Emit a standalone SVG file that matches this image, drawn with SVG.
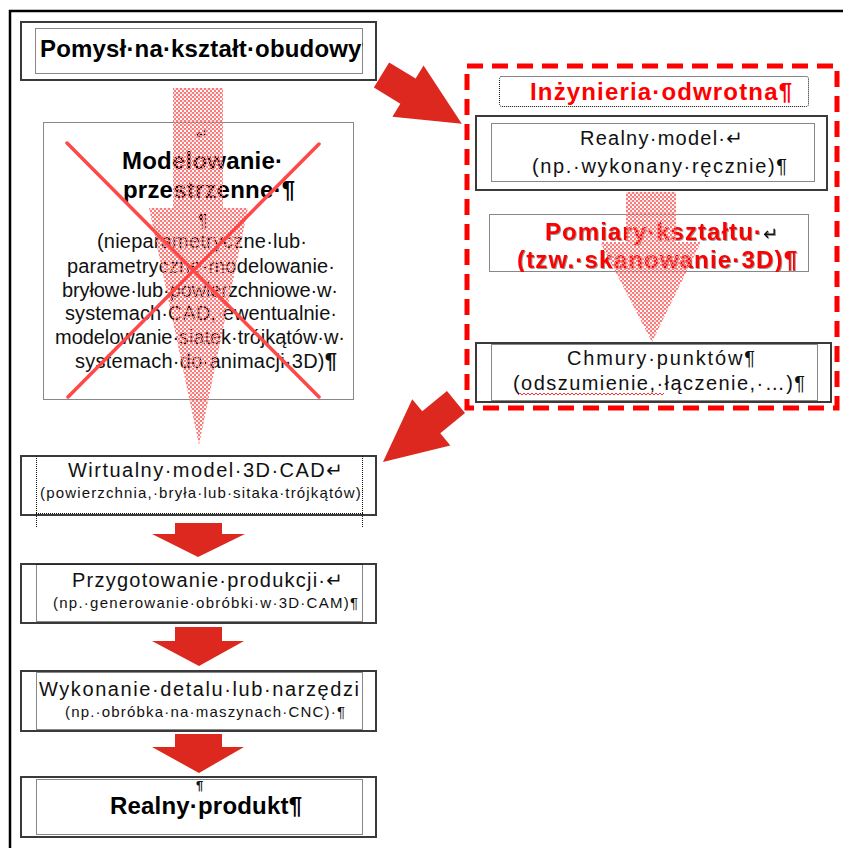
<svg xmlns="http://www.w3.org/2000/svg" width="843" height="848" viewBox="0 0 843 848">
<defs>
<style>
text{font-family:"Liberation Sans",Arial,"DejaVu Sans",sans-serif;}
.b{font-weight:bold;font-size:24px;}
.n{font-size:20px;fill:#111;}
.s{font-size:15px;fill:#111;}
.red{fill:#ff0000;}
.solid{fill:#fff;stroke:#3a3a3a;stroke-width:2;}
.dot{fill:none;stroke:#111;stroke-width:1;stroke-dasharray:1 1;}
.hatch{fill:url(#hp);}
.blk{fill:#dc281e;}
</style>
<pattern id="hp" width="4" height="4" patternUnits="userSpaceOnUse">
<rect x="0" y="0" width="2" height="2" fill="#fb7a7a"/>
<rect x="2" y="2" width="2" height="2" fill="#fb7a7a"/>
<rect x="2" y="0" width="2" height="2" fill="#fb7a7a" fill-opacity="0.25"/>
</pattern>
<clipPath id="c1"><rect x="35" y="20" width="328" height="60"/></clipPath>
<clipPath id="c2"><rect x="36" y="456" width="327" height="60"/></clipPath>
<clipPath id="c3"><rect x="480" y="205" width="340" height="67"/></clipPath>
<clipPath id="c4"><rect x="36" y="779" width="327" height="57"/></clipPath>
</defs>
<rect width="843" height="848" fill="#fff"/>
<g id="frame" fill="none" stroke="#000" stroke-width="2.5">
<path d="M10,848 V11 H843"/>
</g>

<g id="pomysl">
<rect class="solid" x="21" y="22" width="355" height="58"/>
<rect class="dot" x="35.5" y="28.5" width="327" height="45"/>
<text class="b" x="40" y="57" textLength="335" lengthAdjust="spacing" clip-path="url(#c1)">Pomysł·na·kształt·obudowy¶</text>
</g>

<g id="modelowanie">
<rect class="dot" x="43.5" y="122.5" width="310" height="277"/>
<text x="196" y="139" font-size="14" fill="#111">↵</text>
<text class="b" x="122" y="169" textLength="161" lengthAdjust="spacing">Modelowanie·</text>
<text class="b" x="123" y="198" textLength="172" lengthAdjust="spacing">przestrzenne·¶</text>
<text x="198" y="227" font-size="18" fill="#111">¶</text>
<text class="n" x="97" y="248" textLength="210" lengthAdjust="spacing">(nieparametryczne·lub·</text>
<text class="n" x="67" y="273" textLength="268" lengthAdjust="spacing">parametryczne·modelowanie·</text>
<text class="n" x="62" y="297" textLength="276" lengthAdjust="spacing">bryłowe·lub·powierzchniowe·w·</text>
<text class="n" x="65" y="320" textLength="272" lengthAdjust="spacing">systemach·CAD,·ewentualnie·</text>
<text class="n" x="55" y="344" textLength="290" lengthAdjust="spacing">modelowanie·siatek·trójkątów·w·</text>
<text class="n" x="75" y="368" textLength="262" lengthAdjust="spacing">systemach·do·animacji·3D)<tspan font-weight="bold" font-size="22">¶</tspan></text>
</g>

<g id="inzynieria">
<rect x="467" y="66" width="370" height="342" fill="none" stroke="#ff0000" stroke-width="5" stroke-dasharray="16 9"/>
<rect class="dot" x="499.5" y="76.5" width="309" height="30" rx="2"/>
<text class="b red" x="530" y="100" textLength="262" lengthAdjust="spacing">Inżynieria·odwrotna¶</text>
</g>

<g id="realny-model">
<rect class="solid" x="476" y="116" width="351" height="74"/>
<rect class="dot" x="491.5" y="123.5" width="323" height="58"/>
<text class="n" x="580" y="145" textLength="163" lengthAdjust="spacing">Realny·model·↵</text>
<text class="n" x="532" y="173" textLength="255" lengthAdjust="spacing">(np.·wykonany·ręcznie)¶</text>
</g>

<g id="pomiary">
<rect class="dot" x="489.5" y="214.5" width="319" height="57"/>
<g clip-path="url(#c3)">
<text class="b" x="545" y="240" textLength="233" lengthAdjust="spacing" style="filter:drop-shadow(1px 1px 0 #999)"><tspan fill="#ff0000">Pomiary·kształtu·</tspan><tspan fill="#111" font-weight="normal" font-size="18">↵</tspan></text>
<text class="b red" x="517" y="268" textLength="280" lengthAdjust="spacing" style="filter:drop-shadow(1px 1px 0 #999)">(tzw.·skanowanie·3D)¶</text>
</g>
</g>

<g id="chmury">
<rect class="solid" x="476" y="343" width="355" height="59"/>
<rect class="dot" x="491.5" y="344.5" width="326" height="56"/>
<text class="n" x="567" y="365" textLength="188" lengthAdjust="spacing">Chmury·punktów¶</text>
<text class="n" x="513" y="390" textLength="292" lengthAdjust="spacing">(odszumienie,·łączenie,·…)¶</text>
<path d="M518,395 l2,-2 l2,2 l2,-2 l2,2 l2,-2 l2,2 l2,-2 l2,2 l2,-2 l2,2 l2,-2 l2,2 l2,-2 l2,2 l2,-2 l2,2 l2,-2 l2,2 l2,-2 l2,2 l2,-2 l2,2 l2,-2 l2,2 l2,-2 l2,2 l2,-2 l2,2 l2,-2 l2,2 l2,-2 l2,2 l2,-2 l2,2 l2,-2 l2,2 l2,-2 l2,2 l2,-2 l2,2 l2,-2 l2,2 l2,-2 l2,2 l2,-2 l2,2 l2,-2 l2,2 l2,-2 l2,2 l2,-2 l2,2 l2,-2 l2,2 l2,-2 l2,2 l2,-2 l2,2 l2,-2 l2,2 l2,-2 l2,2 l2,-2 l2,2 l2,-2 l2,2 l2,-2 l2,2 l2,-2 l2,2 l2,-2 l2,2 l2,-2" fill="none" stroke="#ff3030" stroke-width="1"/>
</g>

<g id="wirtualny">
<rect class="solid" x="21" y="456" width="355" height="59"/>
<path class="dot" d="M36.5,456 V528 M362.5,456 V528 M36,513.5 H363"/>
<text class="n" x="68" y="477" textLength="275" lengthAdjust="spacing">Wirtualny·model·3D·CAD↵</text>
<text class="s" x="40" y="498" textLength="330" lengthAdjust="spacing" clip-path="url(#c2)">(powierzchnia,·bryła·lub·sitaka·trójkątów)¶</text>
</g>

<g id="przygotowanie">
<rect class="solid" x="21" y="564" width="355" height="59"/>
<rect class="dot" x="36.5" y="564.5" width="326" height="57"/>
<text class="n" x="72" y="587" textLength="271" lengthAdjust="spacing">Przygotowanie·produkcji·↵</text>
<text class="s" x="53" y="608" textLength="305" lengthAdjust="spacing">(np.·generowanie·obróbki·w·3D·CAM)¶</text>
</g>

<g id="wykonanie">
<rect class="solid" x="21" y="671" width="355" height="60"/>
<rect class="dot" x="36.5" y="672.5" width="326" height="57"/>
<text class="n" x="39" y="696" textLength="320" lengthAdjust="spacing">Wykonanie·detalu·lub·narzędzi</text>
<text class="s" x="65" y="717" textLength="280" lengthAdjust="spacing">(np.·obróbka·na·maszynach·CNC)·¶</text>
</g>

<g id="realny-produkt">
<rect class="solid" x="21" y="777" width="355" height="60"/>
<rect class="dot" x="36.5" y="779.5" width="326" height="55"/>
<text x="196" y="790" font-size="13" font-weight="bold" fill="#111" clip-path="url(#c4)">¶</text>
<text class="b" x="110" y="814" textLength="192" lengthAdjust="spacing">Realny·produkt¶</text>
</g>

<g id="connectors">
<polygon class="hatch" points="173,88 223,88 223,208 248,208 199,445 149,208 173,208"/>
<polygon class="hatch" points="626,192 676,192 676,242 701,242 652,342 600,242 626,242"/>
<g stroke="#ff4848" stroke-width="3.5" stroke-linecap="round">
<line x1="67" y1="143" x2="319" y2="397"/>
<line x1="319" y1="144" x2="68" y2="397"/>
</g>
<polygon class="blk" transform="translate(381.5,75) rotate(31.3)" points="0,-14.7 31,-14.7 31,-30 94,0 31,30 31,14.7 0,14.7"/>
<polygon class="blk" transform="translate(456,402) rotate(140.6)" points="0,-14.2 32,-14.2 32,-30 94.5,0 32,30 32,14.2 0,14.2"/>
<polygon class="blk" points="175,523 222,523 222,534 245,534 198,557 152,534 175,534"/>
<polygon class="blk" points="175,627 222,627 222,641 244,641 199,666 152,641 175,641"/>
<polygon class="blk" points="175,734 222,734 222,747 244,747 199,773 152,747 175,747"/>
</g>
</svg>
